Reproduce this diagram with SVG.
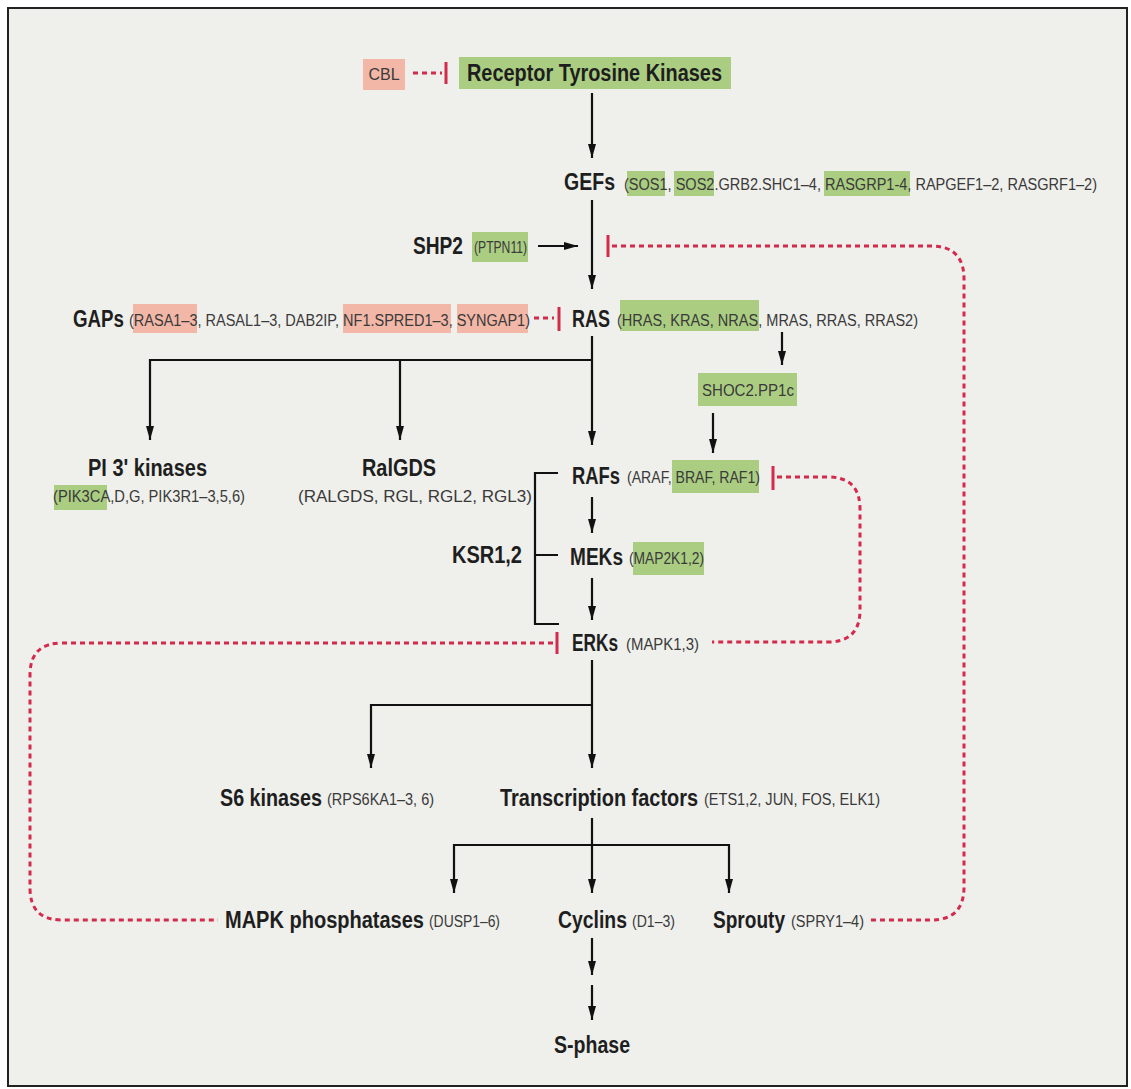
<svg xmlns="http://www.w3.org/2000/svg" width="1131" height="1089" viewBox="0 0 1131 1089">
<defs>
<marker id="arr" viewBox="0 0 14 8" refX="14" refY="4" markerWidth="14" markerHeight="8" markerUnits="userSpaceOnUse" orient="auto"><path d="M0,0 L14,4 L0,8 z" fill="#111"/></marker>
<style>
.b{font-family:"Liberation Sans",Arial,sans-serif;font-weight:bold;font-size:23px;fill:#1e1e1e}
.s{font-family:"Liberation Sans",Arial,sans-serif;font-size:16px;fill:#3a3a3a}
.g{fill:#aacd82}
.r{fill:#f2b7a6}
.ln{fill:none;stroke:#111;stroke-width:2.2}
.da{fill:none;stroke:#d42a4c;stroke-width:3;stroke-dasharray:5 4}
.tk{fill:none;stroke:#d42a4c;stroke-width:3}
</style>
</defs>
<rect x="0" y="0" width="1131" height="1089" fill="#ffffff"/>
<rect x="8" y="8" width="1119" height="1078" fill="#efefeb" stroke="#222" stroke-width="2"/>

<g id="connectors">
<path class="ln" d="M592,93 V158" marker-end="url(#arr)"/>
<path class="ln" d="M592,200 V289" marker-end="url(#arr)"/>
<path class="ln" d="M538,246 H578" marker-end="url(#arr)"/>
<path class="ln" d="M592,336 V445" marker-end="url(#arr)"/>
<path class="ln" d="M592,360 H150 V440" marker-end="url(#arr)"/>
<path class="ln" d="M400,360 V440" marker-end="url(#arr)"/>
<path class="ln" d="M782,332 V365" marker-end="url(#arr)"/>
<path class="ln" d="M713,413 V453" marker-end="url(#arr)"/>
<path class="ln" d="M592,497 V533" marker-end="url(#arr)"/>
<path class="ln" d="M592,578 V620" marker-end="url(#arr)"/>
<path class="ln" d="M558,473 H535 V624 H559 M535,555 H558"/>
<path class="ln" d="M592,660 V768" marker-end="url(#arr)"/>
<path class="ln" d="M592,705 H371 V768" marker-end="url(#arr)"/>
<path class="ln" d="M592,818 V893" marker-end="url(#arr)"/>
<path class="ln" d="M592,845 H454 V893" marker-end="url(#arr)"/>
<path class="ln" d="M592,845 H729 V893" marker-end="url(#arr)"/>
<path class="ln" d="M592,938 V975" marker-end="url(#arr)"/>
<path class="ln" d="M592,985 V1020" marker-end="url(#arr)"/>
<path class="da" d="M413,73 H442"/>
<path class="tk" d="M446,62 V84"/>
<path class="tk" d="M608,235 V257"/>
<path class="da" d="M612,246 H931 Q964,246 964,279 V887 Q964,920 931,920 H870"/>
<path class="da" d="M534,318 H554"/>
<path class="tk" d="M559,307 V331"/>
<path class="tk" d="M773,466 V490"/>
<path class="da" d="M777,477 H828 Q860,477 860,509 V610 Q860,642 828,642 H712"/>
<path class="tk" d="M557,632 V654"/>
<path class="da" d="M553,643 H62 Q30,643 30,675 V888 Q30,920 62,920 H218"/>
</g>

<g id="cbl"><rect class="r" x="363" y="59" width="42" height="31"/><text class="s" x="384" y="80" text-anchor="middle" font-size="15">CBL</text></g>
<g id="rtk"><rect class="g" x="459" y="57" width="272" height="32"/><text class="b" x="467" y="81" textLength="255" lengthAdjust="spacingAndGlyphs">Receptor Tyrosine Kinases</text></g>

<g id="gefs">
<rect class="g" x="627" y="171" width="38" height="25"/>
<rect class="g" x="674" y="171" width="40" height="25"/>
<rect class="g" x="824" y="171" width="86" height="25"/>
<text class="b" x="564" y="190" textLength="51" lengthAdjust="spacingAndGlyphs">GEFs</text>
<text class="s" x="624" y="190" textLength="473" lengthAdjust="spacingAndGlyphs">(SOS1, SOS2.GRB2.SHC1–4, RASGRP1-4, RAPGEF1–2, RASGRF1–2)</text>
</g>

<g id="shp2">
<rect class="g" x="472" y="232" width="56" height="30"/>
<text class="b" x="413" y="254" textLength="50" lengthAdjust="spacingAndGlyphs">SHP2</text>
<text class="s" x="474" y="253" textLength="53" lengthAdjust="spacingAndGlyphs">(PTPN11)</text>
</g>

<g id="gaps">
<rect class="r" x="133" y="304" width="64" height="29"/>
<rect class="r" x="343" y="304" width="108" height="29"/>
<rect class="r" x="457" y="304" width="71" height="29"/>
<text class="b" x="73" y="327" textLength="51" lengthAdjust="spacingAndGlyphs">GAPs</text>
<text class="s" x="129" y="326" textLength="401" lengthAdjust="spacingAndGlyphs">(RASA1–3, RASAL1–3, DAB2IP, NF1.SPRED1–3, SYNGAP1)</text>
</g>

<g id="ras">
<rect class="g" x="620" y="300" width="139" height="31"/>
<text class="b" x="572" y="327" textLength="38" lengthAdjust="spacingAndGlyphs">RAS</text>
<text class="s" x="617" y="326" textLength="301" lengthAdjust="spacingAndGlyphs">(HRAS, KRAS, NRAS, MRAS, RRAS, RRAS2)</text>
</g>

<g id="shoc2">
<rect class="g" x="698" y="373" width="99" height="33"/>
<text class="s" x="702" y="396" textLength="92" lengthAdjust="spacingAndGlyphs">SHOC2.PP1c</text>
</g>

<g id="pi3k">
<rect class="g" x="54" y="485" width="53" height="25"/>
<text class="b" x="88" y="476" textLength="119" lengthAdjust="spacingAndGlyphs">PI 3' kinases</text>
<text class="s" x="53" y="502" textLength="192" lengthAdjust="spacingAndGlyphs">(PIK3CA,D,G, PIK3R1–3,5,6)</text>
</g>

<g id="ralgds">
<text class="b" x="362" y="476" textLength="74" lengthAdjust="spacingAndGlyphs">RalGDS</text>
<text class="s" x="298" y="502" textLength="234" lengthAdjust="spacingAndGlyphs">(RALGDS, RGL, RGL2, RGL3)</text>
</g>

<g id="rafs">
<rect class="g" x="672" y="460" width="87" height="33"/>
<text class="b" x="572" y="484" textLength="48" lengthAdjust="spacingAndGlyphs">RAFs</text>
<text class="s" x="627" y="483" textLength="133" lengthAdjust="spacingAndGlyphs">(ARAF, BRAF, RAF1)</text>
</g>

<g id="ksr"><text class="b" x="452" y="563" textLength="70" lengthAdjust="spacingAndGlyphs">KSR1,2</text></g>

<g id="meks">
<rect class="g" x="633" y="542" width="71" height="33"/>
<text class="b" x="570" y="565" textLength="53" lengthAdjust="spacingAndGlyphs">MEKs</text>
<text class="s" x="629" y="564" textLength="75" lengthAdjust="spacingAndGlyphs">(MAP2K1,2)</text>
</g>

<g id="erks">
<text class="b" x="572" y="651" textLength="46" lengthAdjust="spacingAndGlyphs">ERKs</text>
<text class="s" x="626" y="650" textLength="73" lengthAdjust="spacingAndGlyphs">(MAPK1,3)</text>
</g>

<g id="s6k">
<text class="b" x="220" y="806" textLength="102" lengthAdjust="spacingAndGlyphs">S6 kinases</text>
<text class="s" x="327" y="805" textLength="107" lengthAdjust="spacingAndGlyphs">(RPS6KA1–3, 6)</text>
</g>

<g id="tf">
<text class="b" x="500" y="806" textLength="198" lengthAdjust="spacingAndGlyphs">Transcription factors</text>
<text class="s" x="704" y="805" textLength="176" lengthAdjust="spacingAndGlyphs">(ETS1,2, JUN, FOS, ELK1)</text>
</g>

<g id="mapkp">
<text class="b" x="225" y="928" textLength="199" lengthAdjust="spacingAndGlyphs">MAPK phosphatases</text>
<text class="s" x="429" y="927" textLength="71" lengthAdjust="spacingAndGlyphs">(DUSP1–6)</text>
</g>

<g id="cyclins">
<text class="b" x="558" y="928" textLength="69" lengthAdjust="spacingAndGlyphs">Cyclins</text>
<text class="s" x="632" y="927" textLength="43" lengthAdjust="spacingAndGlyphs">(D1–3)</text>
</g>

<g id="sprouty">
<text class="b" x="713" y="928" textLength="72" lengthAdjust="spacingAndGlyphs">Sprouty</text>
<text class="s" x="791" y="927" textLength="73" lengthAdjust="spacingAndGlyphs">(SPRY1–4)</text>
</g>

<g id="sphase"><text class="b" x="554" y="1053" textLength="76" lengthAdjust="spacingAndGlyphs">S-phase</text></g>
</svg>
